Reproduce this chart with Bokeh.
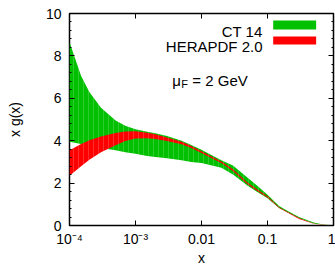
from bokeh.plotting import figure
from bokeh.models import (Range1d, FixedTicker, LinearAxis, LogAxis, Label,
                          BoxAnnotation)
from bokeh.embed import file_html
from bokeh.resources import INLINE

# ---- data ----
x_vals = [1e-4, 1.5e-4, 2e-4, 3e-4, 5e-4, 7e-4, 1e-3, 1.5e-3, 2e-3, 3e-3,
          5e-3, 7e-3, 0.01, 0.02, 0.03, 0.05, 0.07, 0.1, 0.15, 0.2, 0.3,
          0.5, 0.7, 1.0]
ct14_upper = [8.65, 7.05, 6.30, 5.55, 4.95, 4.70, 4.54, 4.42, 4.35, 4.22,
              4.00, 3.80, 3.57, 3.08, 2.83, 2.25, 1.88, 1.45, 0.92, 0.70,
              0.40, 0.14, 0.05, 0.0]
ct14_lower = [3.95, 3.85, 3.78, 3.66, 3.55, 3.45, 3.38, 3.28, 3.23, 3.17,
              3.08, 3.00, 2.95, 2.72, 2.40, 1.88, 1.58, 1.28, 0.82, 0.62,
              0.34, 0.10, 0.03, 0.0]
hera_upper = [3.55, 3.85, 4.02, 4.20, 4.36, 4.43, 4.45, 4.38, 4.30, 4.15,
              3.95, 3.75, 3.50, 3.02, 2.65, 2.02, 1.70, 1.38, 0.86, 0.65,
              0.35, 0.10, 0.03, 0.0]
hera_lower = [2.35, 2.80, 3.10, 3.45, 3.78, 3.98, 4.10, 4.12, 4.08, 3.98,
              3.83, 3.65, 3.42, 2.95, 2.57, 1.94, 1.63, 1.32, 0.82, 0.61,
              0.31, 0.08, 0.02, 0.0]

x_ticks = [1e-4, 1e-3, 1e-2, 1e-1, 1.0]
x_tick_labels = {1e-4: "10⁻⁴", 1e-3: "10⁻³", 1e-2: "0.01", 1e-1: "0.1", 1.0: "1"}
y_ticks = [0, 2, 4, 6, 8, 10]
y_minor = [0.4 * k for k in range(26)]

GREEN = "#00c000"
RED = "#ff0000"
FONT = "Liberation Sans"

p = figure(width=335, height=268, x_axis_type="log",
           x_range=Range1d(1e-4, 1.0), y_range=Range1d(0, 10),
           output_backend="svg", toolbar_location=None,
           min_border_left=69, min_border_right=2, min_border_top=13,
           min_border_bottom=43)
p.grid.visible = False
p.outline_line_color = "black"
p.outline_line_width = 1.5
p.background_fill_color = "white"
p.border_fill_color = "white"

# bands
p.varea(x=x_vals, y1=ct14_lower, y2=ct14_upper, fill_color=GREEN,
        hatch_pattern="|", hatch_color="white", hatch_alpha=0.3,
        hatch_scale=5, hatch_weight=0.6)
p.varea(x=x_vals, y1=hera_lower, y2=hera_upper, fill_color=RED,
        hatch_pattern="|", hatch_color="white", hatch_alpha=0.3,
        hatch_scale=5, hatch_weight=0.6)

# axes
xa = p.xaxis[0]
xa.ticker = FixedTicker(ticks=x_ticks, minor_ticks=[])
xa.major_label_overrides = x_tick_labels
xa.axis_label = "x"
ya = p.yaxis[0]
ya.ticker = FixedTicker(ticks=y_ticks, minor_ticks=y_minor)
ya.axis_label = "x g(x)"
for ax in (xa, ya):
    ax.major_tick_in = 5
    ax.major_tick_out = 0
    ax.minor_tick_in = 2
    ax.minor_tick_out = 0
    ax.axis_line_color = None
    ax.major_label_text_font = FONT
    ax.major_label_text_font_size = "14px"
    ax.major_label_text_color = "black"
    ax.axis_label_text_font = FONT
    ax.axis_label_text_font_size = "14px"
    ax.axis_label_text_font_style = "normal"
    ax.axis_label_text_color = "black"
xa.major_label_standoff = 5
xa.axis_label_standoff = 0
ya.major_label_standoff = 8
ya.axis_label_standoff = 20

top = LogAxis(ticker=FixedTicker(ticks=x_ticks, minor_ticks=[]))
right = LinearAxis(ticker=FixedTicker(ticks=y_ticks, minor_ticks=y_minor))
for ax in (top, right):
    ax.major_tick_in = 5
    ax.major_tick_out = 0
    ax.minor_tick_in = 2
    ax.minor_tick_out = 0
    ax.axis_line_color = None
    ax.major_label_text_font_size = "1px"
    ax.major_label_text_color = None
    ax.major_label_standoff = 0
p.add_layout(top, "above")
p.add_layout(right, "right")

# legend (key to the right of the text, as in the reference)
p.add_layout(Label(x=0.084, y=9.17, text="CT 14", text_align="right",
                   text_baseline="alphabetic", text_font=FONT,
                   text_font_size="15px", text_color="black"))
p.add_layout(Label(x=0.084, y=8.46, text="HERAPDF 2.0", text_align="right",
                   text_baseline="alphabetic", text_font=FONT,
                   text_font_size="15px", text_color="black"))
p.add_layout(BoxAnnotation(left=0.122, right=0.546, bottom=9.25, top=9.67,
                           fill_color=GREEN, fill_alpha=1, line_color=None))
p.add_layout(BoxAnnotation(left=0.122, right=0.546, bottom=8.54, top=8.92,
                           fill_color=RED, fill_alpha=1, line_color=None))

# scale annotation
p.add_layout(Label(x=0.00361, y=6.84, text="μ", text_baseline="alphabetic",
                   text_font=FONT, text_font_size="15px", text_color="black"))
p.add_layout(Label(x=0.00494, y=6.68, text="F", text_baseline="alphabetic",
                   text_font=FONT, text_font_size="11px", text_color="black"))
p.add_layout(Label(x=0.00726, y=6.84, text="= 2 GeV", text_baseline="alphabetic",
                   text_font=FONT, text_font_size="15px", text_color="black"))

open("out.html", "w").write(file_html(p, INLINE))
